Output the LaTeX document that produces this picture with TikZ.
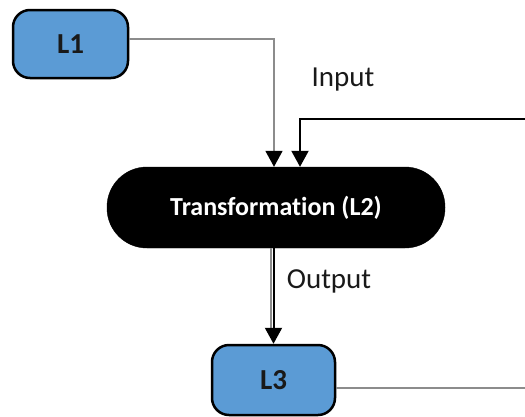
\documentclass[tikz,border=0pt]{standalone}
\usepackage{fontspec}
\setmainfont{Carlito}[Ligatures=NoCommon]
\usetikzlibrary{arrows.meta}
\definecolor{boxblue}{HTML}{5B9BD5}
\definecolor{linegray}{HTML}{8C8C8C}
\begin{document}
\begin{tikzpicture}[x=1pt,y=-1pt,
  lbox/.style={draw=black,line width=2.5pt,fill=boxblue,rounded corners=17pt,
    font=\fontsize{29}{32}\selectfont\bfseries,text=black!90,inner sep=0pt},
  pill/.style={fill=black,draw=black,rounded corners=40pt,minimum width=338pt,minimum height=81pt,
    font=\fontsize{26}{30}\selectfont\bfseries,text=white,inner sep=0pt},
  lbl/.style={font=\fontsize{29}{32}\selectfont,text=black!90,inner sep=0pt},
  tip/.style={-{Triangle[width=17pt,length=16pt,black]}},
  grayline/.style={draw=linegray,line width=1.6pt},
  blackline/.style={draw=black,line width=2pt}]
\useasboundingbox (0,0) rectangle (525,416);
\node[lbox,minimum width=115pt,minimum height=68pt] (L1) at (70.5,44) {L1};
\node[pill] (L2) at (276,207.5) {Transformation (L2)};
\node[lbox,minimum width=123pt,minimum height=70pt] (L3) at (273.5,380) {L3};
\coordinate (inR) at (525,118.5);
\coordinate (outR) at (525,388);
\node[lbl] (inlbl) at (343,80) {Input};
\node[lbl] (outlbl) at (329,281) {Output};
% L1 to L2
\draw[grayline,tip] ([yshift=5pt]L1.east) -| ([xshift=-2pt]L2.north);
% right input to L2
\draw[blackline,tip] (inR) -| ([xshift=24pt]L2.north);
% L2 to L3
\draw[grayline] ([xshift=-2.5pt]L2.south -| L3.north) -- ([xshift=-2.5pt,yshift=16pt]L3.north);
\draw[blackline,tip] (L2.south -| L3.north) -- (L3.north);
% L3 out
\draw[grayline] ([yshift=-8pt]L3.east) -- (outR);
\end{tikzpicture}
\end{document}
